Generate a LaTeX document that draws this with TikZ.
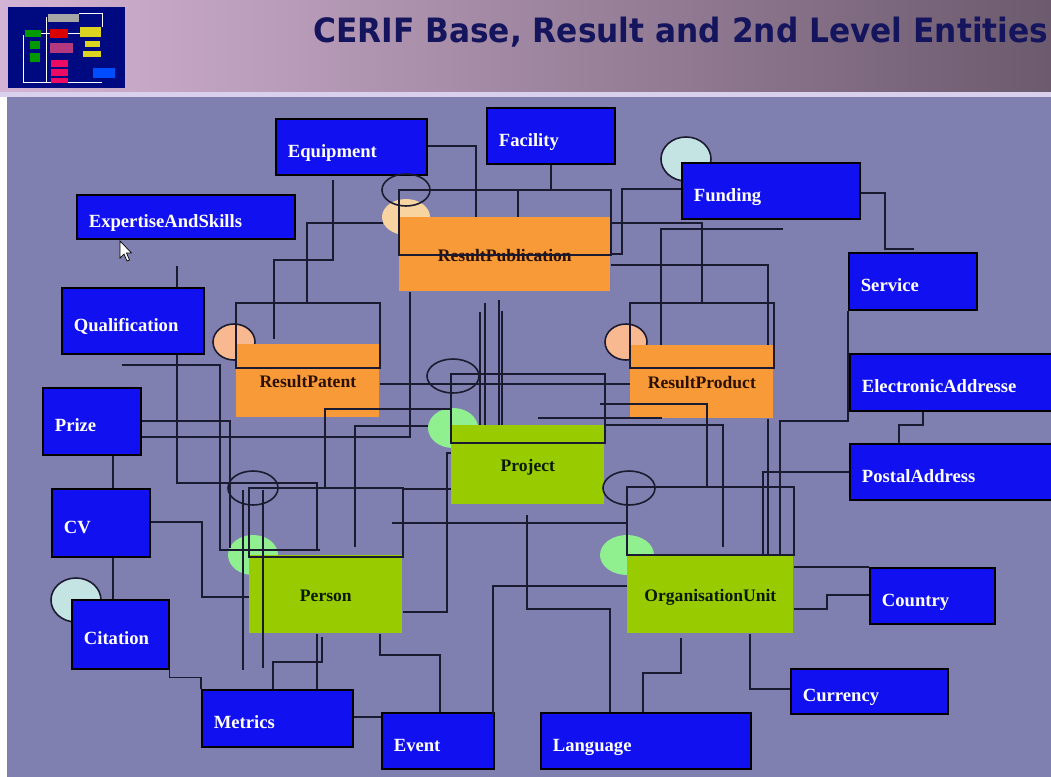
\documentclass[tikz,border=0pt]{standalone}
\usepackage{fontspec}
\usepackage{graphicx}
\usepackage{xcolor}
\newfontfamily\entserif{Liberation Serif}
\newfontfamily\headsans{DejaVu Sans}
\definecolor{bgmain}{HTML}{8080B0}
\definecolor{bannerL}{HTML}{D4B4D4}
\definecolor{bannerR}{HTML}{6C5A6E}
\definecolor{bandcol}{HTML}{D8D0EC}
\definecolor{titlecol}{HTML}{15155E}
\definecolor{entblue}{HTML}{1010F0}
\definecolor{resorange}{HTML}{F99A38}
\definecolor{basegreen}{HTML}{99CC00}
\definecolor{restext}{HTML}{2A1000}
\definecolor{basetext}{HTML}{0A1A00}
\definecolor{wirecol}{HTML}{1A1A30}
\definecolor{lightgreen}{HTML}{90F090}
\definecolor{peach}{HTML}{F8B890}
\definecolor{lightpeach}{HTML}{F8D4A0}
\definecolor{paleteal}{HTML}{C4E4E4}
\definecolor{thumbnavy}{HTML}{000A80}
\newcommand{\entfont}{\entserif\bfseries\fontsize{10.6pt}{12pt}\selectfont}
\newcommand{\resfont}{\entserif\bfseries\fontsize{10pt}{12pt}\selectfont}
\begin{document}
\begin{tikzpicture}[
    x=0.02cm, y=-0.02cm,
    wire/.style={draw=wirecol, line width=0.75pt},
    boxframe/.style={draw=wirecol, line width=1.1pt},
    ring/.style={draw=wirecol, line width=0.9pt},
    ent/.style 2 args={draw=black, line width=1pt, fill=entblue, anchor=north west,
      minimum width=#1*0.02cm, minimum height=#2*0.02cm, text width=#1*0.02cm-0.48cm,
      inner xsep=0.24cm, inner ysep=0pt, align=left, text=white, font=\entfont,
      text height=0.42cm, text depth=0pt},
    res/.style 2 args={fill=resorange, anchor=north west, inner sep=0pt,
      minimum width=#1*0.02cm, minimum height=#2*0.02cm, text=restext, font=\resfont,
      text height=0.28cm, text depth=0pt},
    base/.style 2 args={res={#1}{#2}, fill=basegreen, text=basetext}
  ]
\useasboundingbox (0,0) rectangle (1051,777);
% background and banner
\fill[bgmain] (0,0) rectangle (1051,777);
\shade[left color=bannerL, right color=bannerR] (0,0) rectangle (1051,92);
\fill[bandcol] (0,92) rectangle (1051,97);
\fill[white] (0,97) rectangle (7,777);
\node[anchor=base west, inner sep=0pt, text=titlecol] (title) at (313,42.5)
  {\resizebox{14.7cm}{0.51cm}{\headsans\bfseries CERIF Base, Result and 2nd Level Entities}};
% thumbnail
\fill[thumbnavy] (8,7) rectangle (125,88);
\draw[white, line width=0.5pt] (46,17) -- (46,82) (23,35) |- (102,82) (79,13) -| (102,27)
  (41,33) -- (50,33) (68,33) -- (80,33);
\fill[gray!70] (48,14) rectangle (79,22);
\fill[red!85!black] (50,29) rectangle (68,38);
\fill[magenta!70!black] (50,43) rectangle (73,53);
\fill[blue!70!cyan] (93,68) rectangle (115,78);
\foreach \a/\b/\c/\d in {25/30/41/37, 30/41/40/49, 30/53/40/62}
  \fill[green!60!black] (\a,\b) rectangle (\c,\d);
\foreach \a/\b/\c/\d in {80/27/101/37, 85/41/100/47, 83/51/101/57}
  \fill[yellow!85!black] (\a,\b) rectangle (\c,\d);
\foreach \b/\d in {60/67, 69/76, 78/83}
  \fill[magenta!60!red] (51,\b) rectangle (68,\d);
% role circles behind the boxes
\fill[lightpeach] (406,217) circle[x radius=24, y radius=18];
\filldraw[fill=peach, ring] (234,342) circle[x radius=21, y radius=18];
\filldraw[fill=peach, ring] (626,342) circle[x radius=21, y radius=18];
\filldraw[fill=paleteal, ring] (686,159) circle[x radius=25, y radius=22];
\filldraw[fill=paleteal, ring] (76,600) circle[x radius=25, y radius=22];
\fill[lightgreen] (453,428) circle[x radius=25, y radius=20];
\fill[lightgreen] (253,555) circle[x radius=25, y radius=20];
\fill[lightgreen] (627,555) circle[x radius=27, y radius=20];
% second level entities
\node[ent={151}{56}] (equip) at (275,118) {Equipment};
\node[ent={128}{56}] (facil) at (486,107) {Facility};
\node[ent={218}{44}] (expert) at (76,194) {ExpertiseAndSkills};
\node[ent={178}{56}] (funding) at (681,162) {Funding};
\node[ent={128}{57}] (service) at (848,252) {Service};
\node[ent={142}{66}] (qualif) at (61,287) {Qualification};
\node[ent={215}{57}] (eaddr) at (849,353) {ElectronicAddresse};
\node[ent={98}{67}] (prize) at (42,387) {Prize};
\node[ent={215}{56}] (paddr) at (849,443) {PostalAddress};
\node[ent={98}{68}] (cv) at (51,488) {CV};
\node[ent={125}{56}] (country) at (869,567) {Country};
\node[ent={97}{69}] (citat) at (71,599) {Citation};
\node[ent={157}{45}] (currency) at (790,668) {Currency};
\node[ent={151}{57}] (metric) at (201,689) {Metrics};
\node[ent={112}{56}] (event) at (381,712) {Event};
\node[ent={210}{56}] (lang) at (540,712) {Language};
% result and base entities
\node[res={211}{74}] (rpub) at (399,217) {ResultPublication};
\node[res={143}{73}] (rpat) at (236,344) {ResultPatent};
\node[res={143}{73}] (rprod) at (630,345) {ResultProduct};
\node[base={153}{79}] (proj) at (451,425) {Project};
\node[base={153}{78}] (pers) at (249,555) {Person};
\node[base={166}{78}] (orgu) at (627,555) {OrganisationUnit};
% link frames and rings
\foreach \n/\t/\b in {rpub/190/255, rpat/303/368, rprod/303/368, proj/374/443, pers/488/557, orgu/487/555}
  \draw[boxframe] (\n.west |- 0,\t) rectangle (\n.east |- 0,\b);
\draw[ring] (406,190) circle[x radius=24, y radius=16];
\draw[ring] (453,376) circle[x radius=26, y radius=17];
\draw[ring] (253,488) circle[x radius=25, y radius=17];
\draw[ring] (629,488) circle[x radius=26, y radius=17];
% connectors
\draw[wire] (equip.east |- 0,146) -| (476,0 |- rpub.north);
\draw[wire] (facil.south) -- (facil.south |- 0,190);
\draw[wire] (518,190) -- (518,0 |- rpub.north);
\draw[wire] (333,180) |- (274,260) -- (274,339);
\draw[wire] (383,223) -| (307,303);
\draw[wire] (410,0 |- rpub.south) |- (prize.east |- 0,437);
\draw[wire] (prize.east |- 0,421) -| (230,548);
\draw[wire] (122,365) -| (220,550) -- (320,550);
\draw[wire] (177,266) -- (177,0 |- qualif.north);
\draw[wire] (177,0 |- qualif.south) |- (317,483) -- (317,550);
\draw[wire] (113,0 |- prize.south) -- (113,0 |- cv.north);
\draw[wire] (113,0 |- cv.south) -- (113,0 |- citat.north);
\draw[wire] (cv.east |- 0,522) -| (202,597) -- (pers.west |- 0,597);
\draw[wire] (citat.south east) -- ++(0,8) -| (metric.north west);
\draw[wire] (243,490) -- (243,670);
\draw[wire] (263,490) -- (263,668);
\draw[wire] (317,0 |- pers.south) -- (317,0 |- metric.north);
\draw[wire] (322,637) |- (273,662) -- (273,0 |- metric.north);
\draw[wire] (380,0 |- pers.south) |- (440,655) -- (440,0 |- event.north);
\draw[wire] (metric.east |- 0,717) -- (event.west |- 0,717);
\draw[wire] (orgu.west |- 0,586) -| (493,715);
\draw[wire] (527,515) |- (610,609) -- (610,0 |- lang.north);
\draw[wire] (681,638) |- (643,673) -- (643,0 |- lang.north);
\draw[wire] (750,0 |- orgu.south) |- (currency.west |- 0,689);
\draw[wire] (orgu.east |- 0,567) -- (country.north west);
\draw[wire] (orgu.east |- 0,609) -| (827,595) -- (country.west |- 0,595);
\draw[wire] (paddr.west |- 0,472) -| (763,0 |- orgu.north);
\draw[wire] (848,0 |- service.south) |- (780,421) -- (780,0 |- orgu.north);
\draw[wire] (923,0 |- eaddr.south) |- (899,425) -- (899,0 |- paddr.north);
\draw[wire] (funding.east |- 0,193) -| (885,249) -- (914,249);
\draw[wire] (funding.west |- 0,189) -| (622,254) -- (rpub.east |- 0,254);
\draw[wire] (rpub.east |- 0,223) -| (702,303);
\draw[wire] (783,229) -| (661,0 |- rprod.north);
\draw[wire] (rpub.east |- 0,265) -| (768,0 |- rprod.north);
\draw[wire] (768,0 |- rprod.south) -- (768,0 |- orgu.north);
\draw[wire] (rpat.east |- 0,384) -- (rprod.west |- 0,384);
\draw[wire] (600,404) -| (707,487);
\draw[wire] (538,418) -- (662,418);
\draw[wire] (proj.east |- 0,425) -| (723,547);
\foreach \x/\y in {480/312, 485/303, 499/300, 502/311}
  \draw[wire] (\x,\y) -- (\x,0 |- proj.north);
\draw[wire] (proj.west |- 0,409) -| (325,487);
\draw[wire] (428,426) -| (355,547);
\draw[wire] (pers.east |- 0,489) -- (proj.west |- 0,489);
\draw[wire] (proj.west |- 0,453) -| (447,612) -- (pers.east |- 0,612);
\draw[wire] (392,523) -- (orgu.west |- 0,523);
% mouse pointer
\filldraw[fill=white, draw=black, line width=0.4pt] (120,241) -- ++(0,17) -- ++(4,-4)
  -- ++(3,7) -- ++(2.5,-1) -- ++(-3,-7) -- ++(5,0) -- cycle;
\end{tikzpicture}
\end{document}
